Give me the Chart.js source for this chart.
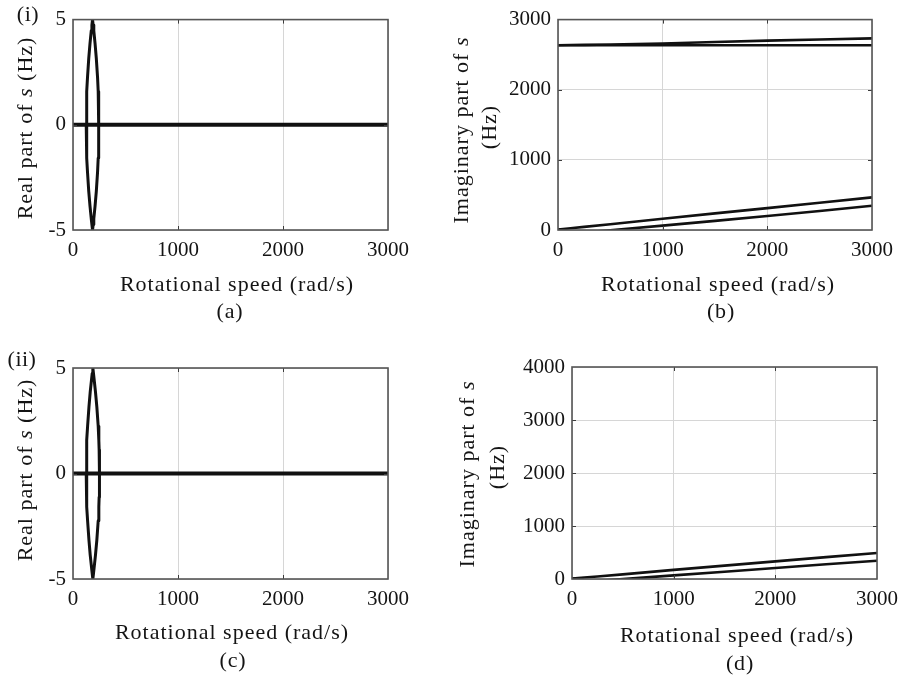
<!DOCTYPE html>
<html><head><meta charset="utf-8">
<script src="https://cdn.jsdelivr.net/npm/chart.js@4/dist/chart.umd.min.js"></script>
<style>
html,body{margin:0;padding:0;background:#fff;}
body{width:906px;height:677px;position:relative;overflow:hidden;}
.panel{position:absolute;}
</style></head><body>
<div class="panel" style="left:0;top:0;width:453px;height:338px"><canvas id="ca"></canvas></div>
<div class="panel" style="left:453px;top:0;width:453px;height:338px"><canvas id="cb"></canvas></div>
<div class="panel" style="left:0;top:338px;width:453px;height:339px"><canvas id="cc"></canvas></div>
<div class="panel" style="left:453px;top:338px;width:453px;height:339px"><canvas id="cd"></canvas></div>
<script>
// ---------- data ----------
const speedTicks = [0, 1000, 2000, 3000];
const realTicks = [-5, 0, 5];
const imagTicksB = [0, 1000, 2000, 3000];
const imagTicksD = [0, 1000, 2000, 3000, 4000];

// (a) real part, case (i)
const aZeroSpeed = [0, 3000];
const aZeroReal = [0, 0];
const aLensSpeed = [126, 129, 132, 138, 150, 162, 174, 180, 186, 192, 198, 210, 222, 234, 240, 243, 246];
const aLensUpper = [0, 1.12, 1.58, 2.24, 3.16, 3.87, 4.47, 4.74, 5, 4.74, 4.47, 3.87, 3.16, 2.24, 1.58, 1.12, 0];
const aLensLower = [0, -1.12, -1.58, -2.24, -3.16, -3.87, -4.47, -4.74, -5, -4.74, -4.47, -3.87, -3.16, -2.24, -1.58, -1.12, 0];

// (b) imaginary part, case (i)
const bSpeed = [0, 120, 250, 500, 1000, 1500, 2000, 2500, 3000];
const bHighRise = [2635, 2637, 2640, 2645, 2660, 2680, 2700, 2716, 2732];
const bHighFlat = [2635, 2635, 2635, 2635, 2635, 2635, 2635, 2635, 2635];
const bLowUpper = [8, 25, 45, 83, 160, 237, 312, 388, 465];
const bLowLower = [5, -20, -35, -3, 62, 130, 200, 272, 346];

// (c) real part, case (ii)
const cZeroSpeed = [0, 3000];
const cZeroReal = [0, 0];
const cLensSpeed = [126, 129, 132, 139, 152, 164, 177, 183, 189, 195, 201, 214, 227, 240, 246, 249, 252];
const cLensUpper = [0, 1.12, 1.58, 2.24, 3.16, 3.87, 4.47, 4.74, 5, 4.74, 4.47, 3.87, 3.16, 2.24, 1.58, 1.12, 0];
const cLensLower = [0, -1.12, -1.58, -2.24, -3.16, -3.87, -4.47, -4.74, -5, -4.74, -4.47, -3.87, -3.16, -2.24, -1.58, -1.12, 0];

// (d) imaginary part, case (ii)
const dSpeed = [0, 120, 250, 500, 1000, 1500, 2000, 2500, 3000];
const dLowUpper = [8, 27, 47, 88, 172, 252, 333, 412, 490];
const dLowLower = [5, -20, -35, -3, 68, 138, 208, 277, 345];

// ---------- helpers ----------
const SERIF = "'Liberation Serif', 'Times New Roman', serif";
function pts(xs, ys) { return xs.map((x, i) => ({ x: x, y: ys[i] })); }
function line(xs, ys, w) {
  return { data: pts(xs, ys), showLine: true, borderColor: '#111', borderWidth: w,
           pointRadius: 0, pointHoverRadius: 0, tension: 0, fill: false, borderJoinStyle: 'round' };
}
function drawRich(ctx, segs, cx, cy, rot, size, spacing) {
  ctx.save();
  ctx.translate(cx, cy);
  if (rot) ctx.rotate(-Math.PI / 2);
  ctx.textBaseline = 'middle';
  ctx.textAlign = 'left';
  ctx.fillStyle = '#141414';
  try { ctx.letterSpacing = spacing + 'px'; } catch (e) {}
  const fontFor = s => (s.i ? 'italic ' : '') + size + 'px ' + SERIF;
  const widths = segs.map(s => { ctx.font = fontFor(s); return ctx.measureText(s.t).width; });
  const total = widths.reduce((a, b) => a + b, 0);
  let x = -total / 2;
  segs.forEach((s, i) => { ctx.font = fontFor(s); ctx.fillText(s.t, x, 0); x += widths[i]; });
  ctx.restore();
}

function makeChart(id, off, W, H, area, yMin, yMax, yTicks, datasets, texts) {
  const canvas = document.getElementById(id);
  const frame = {
    id: 'frame' + id,
    afterDatasetsDraw(chart) {
      const ctx = chart.ctx, a = chart.chartArea;
      const xs = chart.scales.x, ys = chart.scales.y;
      ctx.save();
      ctx.strokeStyle = '#3c3c3c';
      ctx.lineWidth = 1;
      ctx.beginPath();
      speedTicks.slice(1, -1).forEach(v => {
        const px = Math.round(xs.getPixelForValue(v)) + 0.5;
        ctx.moveTo(px, a.bottom); ctx.lineTo(px, a.bottom - 4);
        ctx.moveTo(px, a.top); ctx.lineTo(px, a.top + 4);
      });
      yTicks.slice(1, -1).forEach(v => {
        const py = Math.round(ys.getPixelForValue(v)) + 0.5;
        ctx.moveTo(a.left, py); ctx.lineTo(a.left + 4, py);
        ctx.moveTo(a.right, py); ctx.lineTo(a.right - 4, py);
      });
      ctx.stroke();
      ctx.strokeStyle = '#555';
      ctx.lineWidth = 1.6;
      ctx.strokeRect(a.left, a.top, a.right - a.left, a.bottom - a.top);
      ctx.restore();
    },
    afterDraw(chart) {
      const ctx = chart.ctx;
      texts.forEach(t => drawRich(ctx, t.segs, t.x - off.x, t.y - off.y, t.rot, t.size || 22, t.sp === undefined ? 1.0 : t.sp));
    }
  };
  return new Chart(canvas, {
    type: 'scatter',
    data: { datasets: datasets },
    options: {
      responsive: true, maintainAspectRatio: false, animation: false,
      layout: { padding: { left: 0, top: area.top - off.y, right: W - (area.right - off.x), bottom: H - (area.bottom - off.y) - 30 } },
      plugins: { legend: { display: false }, tooltip: { enabled: false } },
      scales: {
        x: {
          type: 'linear', min: 0, max: 3000,
          afterBuildTicks: s => { s.ticks = speedTicks.map(v => ({ value: v })); },
          afterFit: s => { s.height = 30; },
          grid: { color: '#d6d6d6', lineWidth: 1, drawTicks: false },
          border: { display: false },
          ticks: { padding: 8, color: '#141414', maxRotation: 0, font: { family: SERIF, size: 21 },
                   callback: v => String(v) }
        },
        y: {
          type: 'linear', min: yMin, max: yMax,
          afterBuildTicks: s => { s.ticks = yTicks.map(v => ({ value: v })); },
          afterFit: s => { s.width = area.left - off.x; },
          grid: { color: '#d6d6d6', lineWidth: 1, drawTicks: false },
          border: { display: false },
          ticks: { padding: 7, color: '#141414', font: { family: SERIF, size: 21 },
                   callback: v => String(v) }
        }
      }
    },
    plugins: [frame]
  });
}

const realTitle = [{ t: 'Real part of ' }, { t: 's', i: true }, { t: ' (Hz)' }];
const imagTitle1 = [{ t: 'Imaginary part of ' }, { t: 's', i: true }];
const imagTitle2 = [{ t: '(Hz)' }];
const speedTitle = [{ t: 'Rotational speed (rad/s)' }];

makeChart('ca', { x: 0, y: 0 }, 453, 338, { left: 73, top: 19, right: 388, bottom: 230 }, -5, 5, realTicks,
  [line(aZeroSpeed, aZeroReal, 4), line(aLensSpeed, aLensUpper, 3), line(aLensSpeed, aLensLower, 3)],
  [
    { segs: [{ t: '(i)' }], x: 28, y: 15, sp: 0.5 },
    { segs: realTitle, x: 26, y: 128, rot: true },
    { segs: speedTitle, x: 237, y: 285 },
    { segs: [{ t: '(a)' }], x: 230, y: 312, sp: 0.8 }
  ]);

makeChart('cb', { x: 453, y: 0 }, 453, 338, { left: 558, top: 19, right: 872, bottom: 230 }, 0, 3000, imagTicksB,
  [line(bSpeed, bHighRise, 2.6), line(bSpeed, bHighFlat, 2.6), line(bSpeed, bLowUpper, 2.6), line(bSpeed, bLowLower, 2.6)],
  [
    { segs: imagTitle1, x: 462, y: 130, rot: true },
    { segs: imagTitle2, x: 490, y: 127, rot: true },
    { segs: speedTitle, x: 718, y: 285 },
    { segs: [{ t: '(b)' }], x: 721, y: 312, sp: 0.8 }
  ]);

makeChart('cc', { x: 0, y: 338 }, 453, 339, { left: 73, top: 368, right: 388, bottom: 579 }, -5, 5, realTicks,
  [line(cZeroSpeed, cZeroReal, 4), line(cLensSpeed, cLensUpper, 3), line(cLensSpeed, cLensLower, 3)],
  [
    { segs: [{ t: '(ii)' }], x: 22, y: 360, sp: 0.5 },
    { segs: realTitle, x: 26, y: 470, rot: true },
    { segs: speedTitle, x: 232, y: 633 },
    { segs: [{ t: '(c)' }], x: 233, y: 661, sp: 0.8 }
  ]);

makeChart('cd', { x: 453, y: 338 }, 453, 339, { left: 572, top: 367, right: 885, bottom: 579 }, 0, 4000, imagTicksD,
  [line(dSpeed, dLowUpper, 2.6), line(dSpeed, dLowLower, 2.6)],
  [
    { segs: imagTitle1, x: 468, y: 474, rot: true },
    { segs: imagTitle2, x: 498, y: 467, rot: true },
    { segs: speedTitle, x: 737, y: 636 },
    { segs: [{ t: '(d)' }], x: 740, y: 664, sp: 0.8 }
  ]);
</script>
</body></html>
